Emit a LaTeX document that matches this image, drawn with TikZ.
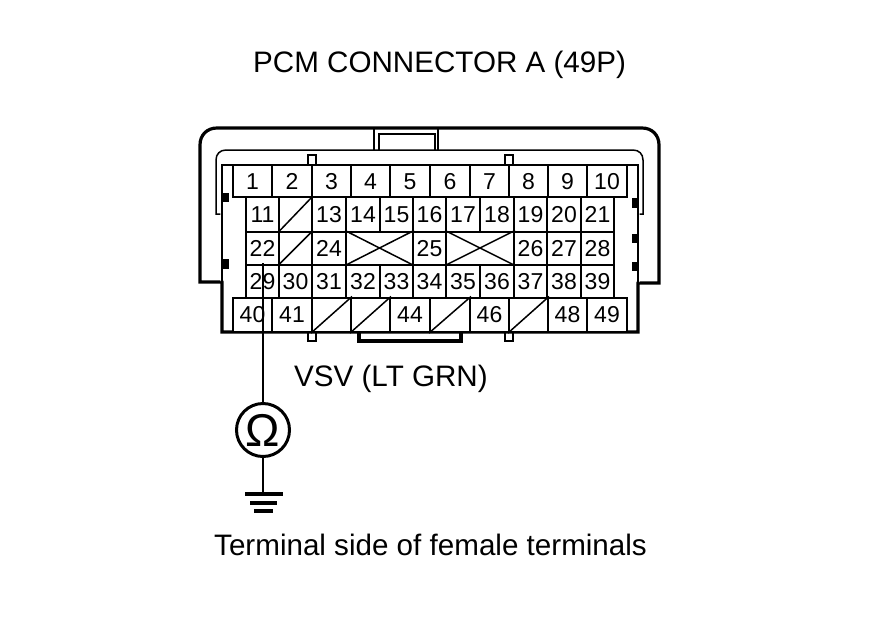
\documentclass[tikz,border=0pt]{standalone}
\usepackage{fontspec}
\setmainfont{Liberation Sans}
\tikzset{
  x=1pt,y=-1pt,
  heavy/.style={line width=3.2pt,black},
  medium/.style={line width=2pt,black},
  fine/.style={line width=1.5pt,black},
  cellbox/.style={draw=black,line width=2pt,inner sep=0pt,fill=white,text height=16pt,text depth=0pt,font=\fontsize{23}{23}\selectfont},
  label/.style={inner sep=0pt,anchor=base west,font=\fontsize{29.6}{30}\selectfont},
  latch/.style={fill=black,draw=none},
  meter/.style={circle,draw=black,line width=3pt,fill=white,minimum size=53pt,inner sep=0pt},
  wire/.style={line width=2.5pt,black}
}
\newcommand{\cellat}[6]{% name, x0, x1, y0, y1, text
  \pgfmathsetmacro{\cw}{#3-#2}\pgfmathsetmacro{\ch}{#5-#4}
  \node[cellbox,minimum width=\cw pt,minimum height=\ch pt] (#1) at ({(#2+#3)/2},{(#4+#5)/2}) {#6};}
\newcommand{\slashat}[5]{% name, x0, x1, y0, y1
  \cellat{#1}{#2}{#3}{#4}{#5}{}
  \draw[fine] (#1.south west) -- (#1.north east);}
\newcommand{\crossat}[5]{%
  \cellat{#1}{#2}{#3}{#4}{#5}{}
  \draw[fine] (#1.south west) -- (#1.north east) (#1.north west) -- (#1.south east);}
\begin{document}
\begin{tikzpicture}
\useasboundingbox (0,0) rectangle (880,630);
\fill[white] (0,0) rectangle (880,630);
% shell
\draw[heavy,line join=miter] (222,282) -- (200,282) -- (200,145) .. controls (200,135) and (207,128) .. (217,128) -- (642,128) .. controls (652,128) and (659,135) .. (659,145) -- (659,283) -- (638,283) -- (638,332) -- (222,332) -- cycle;
\draw[fine,line join=miter] (222,214) -- (216,214) -- (216,160) .. controls (216,154) and (220,150) .. (226,150) -- (633,150) .. controls (639,150) and (643,154) .. (643,160) -- (643,214) -- (638,214);
\draw[fine] (374,150) -- (374,128) (438,128) -- (438,150);
\draw[medium] (379,150) -- (379,134) -- (435,134) -- (435,150);
\draw[heavy] (359,332) -- (359,341) -- (461,341) -- (461,332);
\fill[white] (220.4,166) rectangle (223.6,281) (636.4,166) rectangle (639.6,282);
\draw[medium] (222,282) -- (222,165) -- (638,165) -- (638,283);
% tabs
\draw[medium] (308,165) -- (308,155) -- (316,155) -- (316,165);
\draw[medium] (505,165) -- (505,155) -- (513,155) -- (513,165);
\draw[line width=2.6pt] (308,332) -- (308,341) -- (316,341) -- (316,332);
\draw[line width=2.6pt] (505,332) -- (505,341) -- (513,341) -- (513,332);
% latches
\fill[latch] (222,193) rectangle (229,202);
\fill[latch] (222,259) rectangle (229,269);
\fill[latch] (632,198) rectangle (638,208);
\fill[latch] (632,234) rectangle (638,243);
\fill[latch] (632,262) rectangle (638,271);
% row 1
\cellat{c1}{233}{272}{165}{197}{1}
\cellat{c2}{272}{312}{165}{197}{2}
\cellat{c3}{312}{351}{165}{197}{3}
\cellat{c4}{351}{390}{165}{197}{4}
\cellat{c5}{390}{430}{165}{197}{5}
\cellat{c6}{430}{470}{165}{197}{6}
\cellat{c7}{470}{509}{165}{197}{7}
\cellat{c8}{509}{548}{165}{197}{8}
\cellat{c9}{548}{587}{165}{197}{9}
\cellat{c10}{587}{627}{165}{197}{10}
% row 2
\cellat{c11}{246}{279}{197}{231.5}{11}
\slashat{c12}{279}{312}{197}{231.5}
\cellat{c13}{312}{346}{197}{231.5}{13}
\cellat{c14}{346}{380}{197}{231.5}{14}
\cellat{c15}{380}{413}{197}{231.5}{15}
\cellat{c16}{413}{446}{197}{231.5}{16}
\cellat{c17}{446}{480}{197}{231.5}{17}
\cellat{c18}{480}{514}{197}{231.5}{18}
\cellat{c19}{514}{547}{197}{231.5}{19}
\cellat{c20}{547}{581}{197}{231.5}{20}
\cellat{c21}{581}{614}{197}{231.5}{21}
% row 3
\cellat{c22}{246}{279}{231.5}{264.5}{22}
\slashat{c23}{279}{312}{231.5}{264.5}
\cellat{c24}{312}{346}{231.5}{264.5}{24}
\crossat{xa}{346}{413}{231.5}{264.5}
\cellat{c25}{413}{446}{231.5}{264.5}{25}
\crossat{xb}{446}{514}{231.5}{264.5}
\cellat{c26}{514}{547}{231.5}{264.5}{26}
\cellat{c27}{547}{581}{231.5}{264.5}{27}
\cellat{c28}{581}{614}{231.5}{264.5}{28}
% row 4
\cellat{c29}{246}{279}{264.5}{297.5}{29}
\cellat{c30}{279}{312}{264.5}{297.5}{30}
\cellat{c31}{312}{346}{264.5}{297.5}{31}
\cellat{c32}{346}{380}{264.5}{297.5}{32}
\cellat{c33}{380}{413}{264.5}{297.5}{33}
\cellat{c34}{413}{446}{264.5}{297.5}{34}
\cellat{c35}{446}{480}{264.5}{297.5}{35}
\cellat{c36}{480}{514}{264.5}{297.5}{36}
\cellat{c37}{514}{547}{264.5}{297.5}{37}
\cellat{c38}{547}{581}{264.5}{297.5}{38}
\cellat{c39}{581}{614}{264.5}{297.5}{39}
% row 5
\cellat{c40}{233}{272}{297.5}{332}{40}
\cellat{c41}{272}{312}{297.5}{332}{41}
\slashat{c42}{312}{351}{297.5}{332}
\slashat{c43}{351}{390}{297.5}{332}
\cellat{c44}{390}{430}{297.5}{332}{44}
\slashat{c45}{430}{470}{297.5}{332}
\cellat{c46}{470}{509}{297.5}{332}{46}
\slashat{c47}{509}{548}{297.5}{332}
\cellat{c48}{548}{587}{297.5}{332}{48}
\cellat{c49}{587}{627}{297.5}{332}{49}
% labels
\node[label] (title) at (253,72) {PCM CONNECTOR A (49P)};
\node[label] (vsv) at (294,386) {VSV (LT GRN)};
\node[label] (side) at (214,555) {Terminal side of female terminals};
% meter and ground
\node[meter,font=\fontsize{46}{46}\selectfont] (ohm) at (263,430) {Ω};
\coordinate (probe) at (263,263);
\coordinate (gnd) at (263,494);
\draw[wire] (probe) -- (ohm.north);
\draw[wire] (ohm.south) -- (gnd);
\draw[heavy] (245,494) -- (283,494);
\draw[heavy] (250,503) -- (277,503);
\draw[heavy] (254,511) -- (273,511);
\end{tikzpicture}
\end{document}
